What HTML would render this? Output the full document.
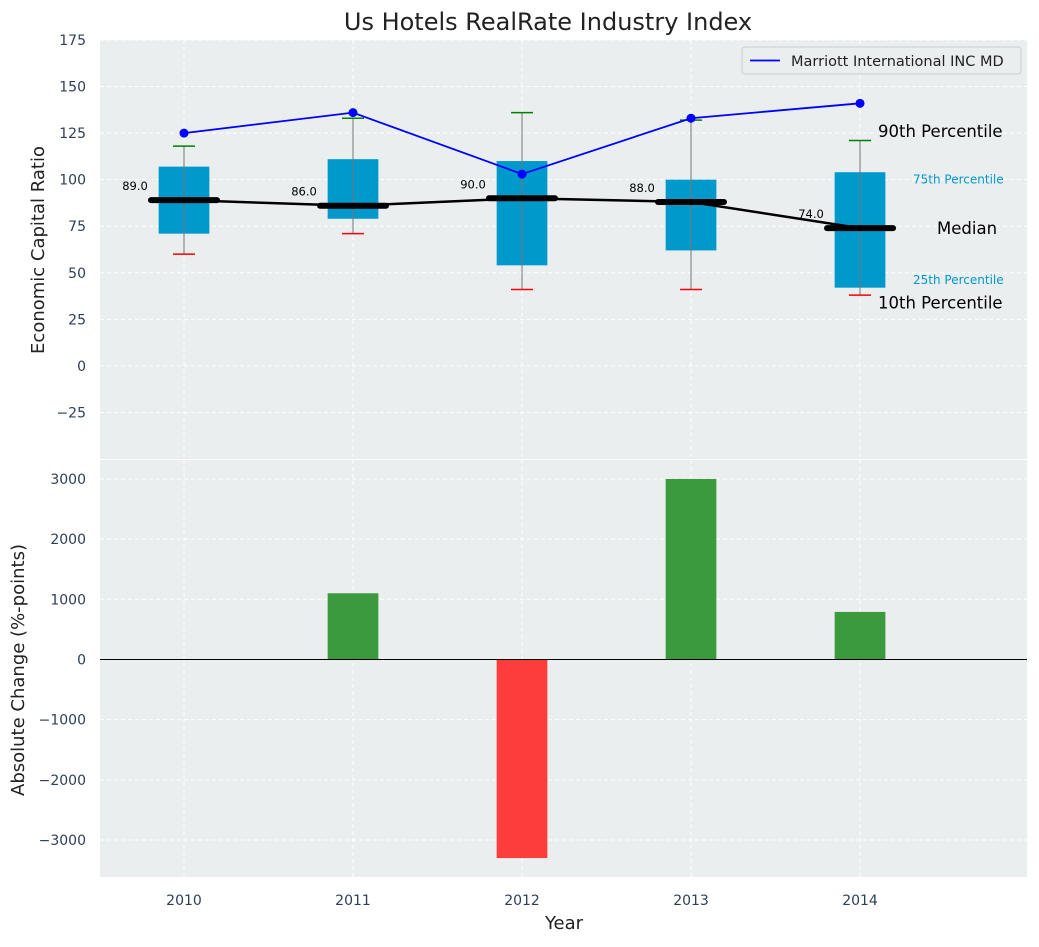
<!DOCTYPE html>
<html><head><meta charset="utf-8"><style>
body{margin:0;background:#fff;font-family:"Liberation Sans","DejaVu Sans",sans-serif;}
svg text{font-family:"DejaVu Sans","Liberation Sans",sans-serif;}
</style></head><body>
<svg id="c" width="1039" height="942" xmlns="http://www.w3.org/2000/svg"></svg>
<script>
const years=[2010,2011,2012,2013,2014];
const p10=[60,71,41,41,38];
const p25=[71,79,54,62,42];
const med=[89,86,90,88,74];
const p75=[107,111,110,100,104];
const p90=[118,133,136,132,121];
const company=[125,136,103,133,141];
const change=[0,1100,-3300,3000,790];
const topTicks=[-25,0,25,50,75,100,125,150,175];
const botTicks=[-3000,-2000,-1000,0,1000,2000,3000];
const NS="http://www.w3.org/2000/svg";
const svg=document.getElementById('c');
function mk(t,a,txt,name,inter){const e=document.createElementNS(NS,t);for(const k in a)e.setAttribute(k,a[k]);if(txt!==undefined)e.textContent=txt;


svg.appendChild(e);return e;}
const L=100,R=1027,X0=2009.503,X1=2014.988;
const x=v=>L+(v-X0)/(X1-X0)*(R-L);
const T0=40,T1=459;
const yT=v=>T1-(v+50)/225*(T1-T0);
const B0=460,B1=877;
const yB=v=>B1-(v+3615)/6930*(B1-B0);
const bw=(x(2010.15)-x(2010));
mk('rect',{x:L,y:T0,width:R-L,height:T1-T0,fill:'#eaeeef'},undefined,'top-plot-area');
mk('rect',{x:L,y:B0,width:R-L,height:B1-B0,fill:'#eaeeef'},undefined,'bottom-plot-area');
topTicks.forEach(t=>{mk('line',{x1:L,x2:R,y1:yT(t),y2:yT(t),stroke:'#fff','stroke-dasharray':'4,3','stroke-width':1},undefined,'top-gridline');
mk('text',{x:L-14,y:yT(t)+5,'text-anchor':'end','font-size':14,fill:'#2e3f56'},t<0?'\u2212'+(-t):t,'top-y-tick');});
botTicks.forEach(t=>{mk('line',{x1:L,x2:R,y1:yB(t),y2:yB(t),stroke:'#fff','stroke-dasharray':'4,3','stroke-width':1},undefined,'bottom-gridline');
mk('text',{x:L-14,y:yB(t)+5,'text-anchor':'end','font-size':14,fill:'#2e3f56'},t<0?'\u2212'+(-t):t,'bottom-y-tick');});
years.forEach(yr=>{const X=x(yr);
mk('line',{x1:X,x2:X,y1:T0,y2:T1,stroke:'#fff','stroke-dasharray':'4,3'},undefined,'top-x-gridline');
mk('line',{x1:X,x2:X,y1:B0,y2:B1,stroke:'#fff','stroke-dasharray':'4,3'},undefined,'bottom-x-gridline');
mk('text',{x:X,y:905,'text-anchor':'middle','font-size':14,fill:'#2e3f56'},yr,'x-tick');});
years.forEach((yr,i)=>{const X=x(yr);
mk('rect',{x:X-bw,y:yT(p75[i]),width:2*bw,height:yT(p25[i])-yT(p75[i]),fill:'#0099cc'},undefined,'box-'+yr);
mk('line',{x1:X,x2:X,y1:yT(p90[i]),y2:yT(p10[i]),stroke:'#777','stroke-width':1},undefined,'whisker-'+yr);
mk('line',{x1:X-11,x2:X+11,y1:yT(p90[i]),y2:yT(p90[i]),stroke:'green','stroke-width':1.5},undefined,'p90-cap-'+yr);
mk('line',{x1:X-11,x2:X+11,y1:yT(p10[i]),y2:yT(p10[i]),stroke:'red','stroke-width':1.5},undefined,'p10-cap-'+yr);
mk('line',{x1:X-33,x2:X+33,y1:yT(med[i]),y2:yT(med[i]),stroke:'#000','stroke-width':6,'stroke-linecap':'round'},undefined,'median-bar-'+yr);
mk('text',{x:X-49,y:yT(med[i])-10,'text-anchor':'middle','font-size':11.5,fill:'#000'},med[i].toFixed(1),'median-label-'+yr);});
mk('polyline',{points:years.map((yr,i)=>x(yr)+','+yT(med[i])).join(' '),fill:'none',stroke:'#000','stroke-width':2.5},undefined,'median-line');
mk('polyline',{points:years.map((yr,i)=>x(yr)+','+yT(company[i])).join(' '),fill:'none',stroke:'blue','stroke-width':1.8},undefined,'company-line');
years.forEach((yr,i)=>mk('circle',{cx:x(yr),cy:yT(company[i]),r:4.5,fill:'blue'},undefined,'company-point-'+yr));
const AX=x(2014);
mk('text',{x:AX+18,y:yT(126)+6,'font-size':16.5,fill:'#000'},'90th Percentile','label-90th');
mk('text',{x:AX+53,y:yT(100)+4,'font-size':12,fill:'#0099cc'},'75th Percentile','label-75th');
mk('text',{x:AX+77,y:yT(74)+6,'font-size':16.5,fill:'#000'},'Median','label-median');
mk('text',{x:AX+53,y:yT(46)+4,'font-size':12,fill:'#0099cc'},'25th Percentile','label-25th');
mk('text',{x:AX+18,y:yT(34)+6,'font-size':16.5,fill:'#000'},'10th Percentile','label-10th');
mk('rect',{x:742,y:47,width:279,height:27,fill:'#eaeeef',stroke:'#ccc',rx:3},undefined,'legend');
mk('line',{x1:750,x2:780,y1:60.5,y2:60.5,stroke:'blue','stroke-width':1.8},undefined,'legend-line');
mk('text',{x:791,y:66,'font-size':14.5,fill:'#222'},'Marriott International INC MD','legend-entry');
years.forEach((yr,i)=>{const v=change[i];if(!v)return;const X=x(yr);
mk('rect',{x:X-bw,y:Math.min(yB(v),yB(0)),width:2*bw,height:Math.abs(yB(v)-yB(0)),fill:v>0?'#3a9a3d':'#fd3c3c'},undefined,'change-bar-'+yr);});
mk('line',{x1:L,x2:R,y1:yB(0),y2:yB(0),stroke:'#000','stroke-width':1},undefined,'zero-line');
mk('text',{x:548,y:30,'text-anchor':'middle','font-size':24,fill:'#222'},'Us Hotels RealRate Industry Index','chart-title');
mk('text',{x:44,y:250,'text-anchor':'middle','font-size':18,fill:'#222',transform:'rotate(-90 44 250)'},'Economic Capital Ratio','top-y-axis-title');
mk('text',{x:24,y:670,'text-anchor':'middle','font-size':18,fill:'#222',transform:'rotate(-90 24 670)'},'Absolute Change (%-points)','bottom-y-axis-title');
mk('text',{x:564,y:929,'text-anchor':'middle','font-size':18,fill:'#222'},'Year','x-axis-title');
</script>
</body></html>
